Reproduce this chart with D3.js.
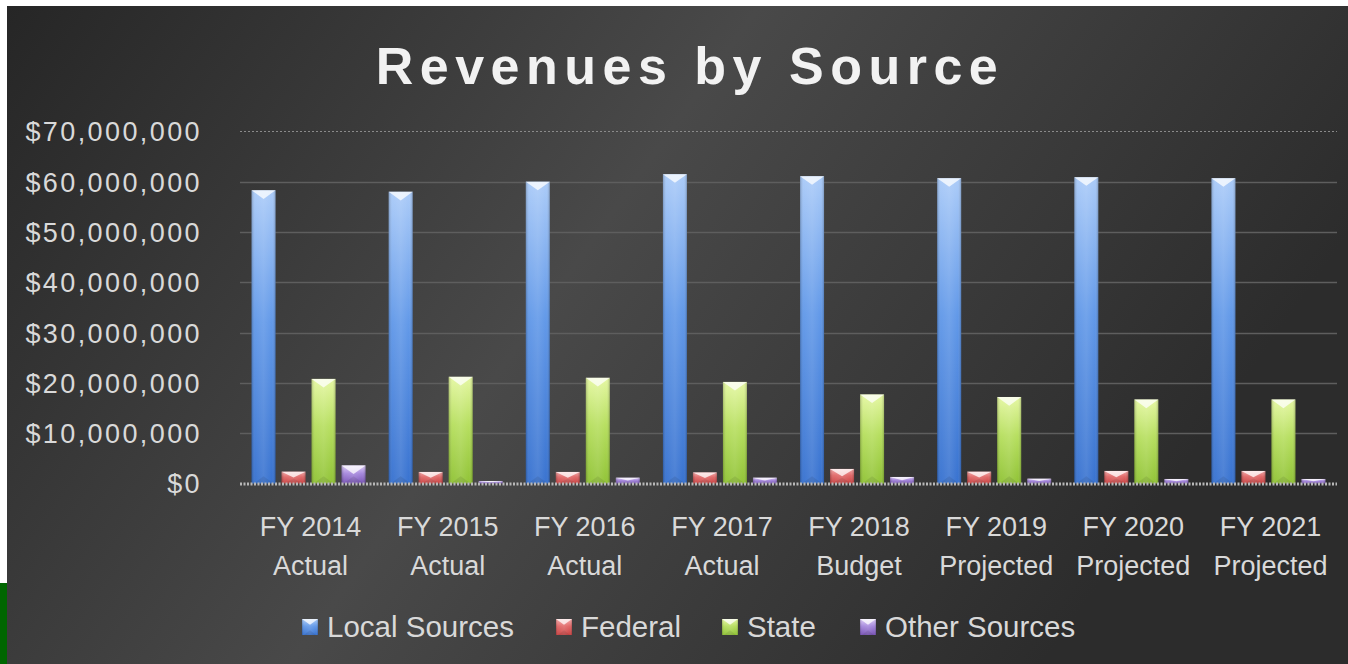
<!DOCTYPE html>
<html><head><meta charset="utf-8">
<script src="https://cdn.jsdelivr.net/npm/d3@7"></script>
<style>html,body{margin:0;padding:0;background:#fff;overflow:hidden}</style>
</head><body>
<svg id="chart" width="1348" height="664"></svg>
<script>
const categories = [["FY 2014","Actual"],["FY 2015","Actual"],["FY 2016","Actual"],["FY 2017","Actual"],["FY 2018","Budget"],["FY 2019","Projected"],["FY 2020","Projected"],["FY 2021","Projected"]];
const seriesNames = ["Local Sources","Federal","State","Other Sources"];
const localSources = [58300000,58000000,60000000,61500000,61100000,60700000,60900000,60700000];
const federal = [2350000,2300000,2300000,2200000,2900000,2350000,2500000,2500000];
const state = [20800000,21200000,21000000,20200000,17700000,17200000,16700000,16700000];
const otherSources = [3600000,500000,1150000,1150000,1300000,950000,900000,900000];
const yTicks = [0,10000000,20000000,30000000,40000000,50000000,60000000,70000000];
const title = "Revenues by Source";

const seriesValues = [localSources, federal, state, otherSources];
const colors = [
  ["#a9caf8","#5f97e8","#3570cf"],
  ["#f4a6a6","#e06666","#c84040"],
  ["#e4f7a0","#b5de5c","#8fc233"],
  ["#dccbf7","#a486dc","#7650b4"]
];

const svg = d3.select("#chart");
const defs = svg.append("defs");

// background
const bg = defs.append("linearGradient").attr("id","bg").attr("x1","0").attr("y1","0").attr("x2","1").attr("y2","0.35");
bg.append("stop").attr("offset","0").attr("stop-color","#262626");
bg.append("stop").attr("offset","0.5").attr("stop-color","#494949");
bg.append("stop").attr("offset","1").attr("stop-color","#2c2c2c");
svg.append("rect").attr("x",0).attr("y",0).attr("width",1348).attr("height",664).attr("fill","#ffffff");
svg.append("rect").attr("x",7).attr("y",6).attr("width",1341).attr("height",658).attr("fill","url(#bg)");
svg.append("rect").attr("x",0).attr("y",583).attr("width",7).attr("height",81).attr("fill","#006600");

// gradients per series
colors.forEach((c,i)=>{
  const g = defs.append("linearGradient").attr("id","sg"+i).attr("x1","0").attr("y1","0").attr("x2","0").attr("y2","1");
  g.append("stop").attr("offset","0").attr("stop-color",c[0]);
  g.append("stop").attr("offset","0.45").attr("stop-color",c[1]);
  g.append("stop").attr("offset","1").attr("stop-color",c[2]);
});
const hg = defs.append("linearGradient").attr("id","hshade").attr("x1","0").attr("y1","0").attr("x2","1").attr("y2","0");
hg.append("stop").attr("offset","0").attr("stop-color","#000").attr("stop-opacity",0.22);
hg.append("stop").attr("offset","0.15").attr("stop-color","#fff").attr("stop-opacity",0.05);
hg.append("stop").attr("offset","0.5").attr("stop-color","#fff").attr("stop-opacity",0.12);
hg.append("stop").attr("offset","0.85").attr("stop-color","#fff").attr("stop-opacity",0.02);
hg.append("stop").attr("offset","1").attr("stop-color","#000").attr("stop-opacity",0.22);

const x0 = d3.scaleBand().domain(d3.range(categories.length)).range([240,1337]).paddingInner(0).paddingOuter(0);
const x1 = d3.scaleBand().domain(d3.range(seriesNames.length)).range([0,x0.bandwidth()]).paddingInner(0.2).paddingOuter(0.385);
const y = d3.scaleLinear().domain([0,70000000]).range([483.5,131.4]);

// gridlines
const gridG = svg.append("g");
yTicks.forEach(t=>{
  if (t===0) return;
  const yy = Math.round(y(t))+0.5;
  gridG.append("line").attr("x1",240).attr("x2",1337).attr("y1",yy).attr("y2",yy)
    .attr("stroke", t===70000000 ? "#8a8a8a" : "#5e5e5e")
    .attr("stroke-width", t===70000000 ? 1 : 1.5)
    .attr("stroke-dasharray", t===70000000 ? "2,2" : null);
});

// y labels
const yAxis = d3.axisLeft(y).tickValues(yTicks).tickSize(0).tickPadding(0)
  .tickFormat(d=>"$"+d3.format(",")(d));
const ya = svg.append("g").attr("transform","translate(202,0)").call(yAxis);
ya.select(".domain").remove();
ya.selectAll("text").attr("fill","#d9d9d9").style("font-family","'Liberation Sans',Arial,sans-serif").style("font-size","27px").attr("dy","0.35em").style("letter-spacing","2.4px");

// bars
const barsG = svg.append("g");
function drawBar(g, x, yTop, w, h, i){
  g.append("rect").attr("x",x).attr("y",yTop).attr("width",w).attr("height",h).attr("fill","url(#sg"+i+")");
  g.append("rect").attr("x",x).attr("y",yTop).attr("width",w).attr("height",h).attr("fill","url(#hshade)");
  const d = Math.min(w*0.36, h*0.5);
  g.append("polygon").attr("points",[[x,yTop],[x+w,yTop],[x+w/2,yTop+d]].map(p=>p.join(",")).join(" "))
    .attr("fill","#ffffff").attr("fill-opacity",0.75);
  const db = Math.min(w*0.3, h*0.4);
  g.append("polygon").attr("points",[[x+2,yTop+h],[x+w-2,yTop+h],[x+w/2,yTop+h-db]].map(p=>p.join(",")).join(" "))
    .attr("fill","#000000").attr("fill-opacity",0.08);
}
seriesValues.forEach((vals,i)=>{
  vals.forEach((v,j)=>{
    const bx = x0(j)+x1(i);
    const yt = y(v);
    drawBar(barsG, bx, yt, x1.bandwidth(), y(0)-yt, i);
  });
});

// baseline
svg.append("line").attr("x1",240).attr("x2",1337).attr("y1",484).attr("y2",484)
  .attr("stroke","#b8b8b8").attr("stroke-width",3).attr("stroke-dasharray","2,1.5");

// category labels
const catG = svg.append("g");
categories.forEach((c,j)=>{
  const cx = x0(j)+x0.bandwidth()/2 + 2;
  const t = catG.append("text").attr("x",cx).attr("text-anchor","middle").attr("fill","#d9d9d9")
    .style("font-family","'Liberation Sans',Arial,sans-serif").style("font-size","27px");
  t.append("tspan").attr("x",cx).attr("y",536).text(c[0]);
  t.append("tspan").attr("x",cx).attr("y",575).text(c[1]);
});

// title
svg.append("text").attr("x",690).attr("y",84).attr("text-anchor","middle").attr("fill","#f2f2f2")
  .style("font-family","'Liberation Sans',Arial,sans-serif").style("font-weight","bold").style("font-size","52px")
  .style("letter-spacing","6.5px").text(title);

// legend
const legendX = [302,556,722,860];
const legG = svg.append("g");
seriesNames.forEach((n,i)=>{
  drawBar(legG, legendX[i], 619, 16, 16, i);
  legG.append("text").attr("x",legendX[i]+25).attr("y",637).attr("fill","#d9d9d9")
    .style("font-family","'Liberation Sans',Arial,sans-serif").style("font-size","29.5px").text(n);
});
</script>
</body></html>
